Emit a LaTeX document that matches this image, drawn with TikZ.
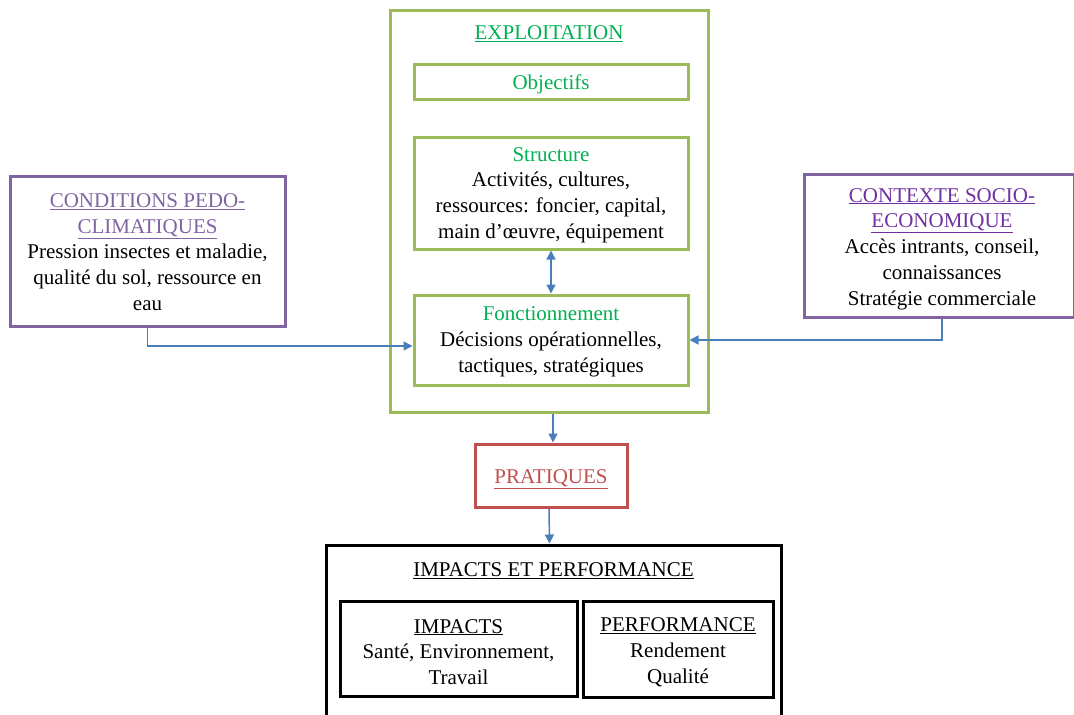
\documentclass[tikz,border=0pt]{standalone}
\usepackage{fontspec}
\setmainfont{Liberation Serif}
\usetikzlibrary{arrows.meta}
\definecolor{exgreen}{HTML}{9BBB59}
\definecolor{extext}{HTML}{00B050}
\definecolor{pedo}{HTML}{8064A2}
\definecolor{socio}{HTML}{7030A0}
\definecolor{pratred}{HTML}{C0504D}
\definecolor{flow}{HTML}{4A7EBB}

\begin{document}
\begin{tikzpicture}[x=1pt,y=-1pt,
  box/.style={draw, line width=3pt, minimum width=#1, align=center, inner sep=0pt},
  txt/.style={align=center, font=\fontsize{21}{25.8}\selectfont},
  flowarrow/.style={draw=flow, line width=1.5pt, -{Triangle[length=9pt,width=9pt]}}]

\useasboundingbox (0,0) rectangle (1074,715);

\node[box=318pt, draw=exgreen, minimum height=402pt] (expl) at (549,211) {};
\node[txt, text=extext] (expltitle) at (549,34) {\underline{EXPLOITATION}};
\node[box=274pt, draw=exgreen, minimum height=35pt] (obj) at (551,81.5) {};
\node[txt, text=extext] at (551,84) {Objectifs};
\node[box=274pt, draw=exgreen, minimum height=112pt] (struct) at (551,193) {};
\node[txt] at (551,195) {\textcolor{extext}{Structure}\\ Activités, cultures,\\ ressources: foncier, capital,\\ main d’œuvre, équipement};
\node[box=274pt, draw=exgreen, minimum height=90pt] (fonct) at (551,340) {};
\node[txt] at (551,342) {\textcolor{extext}{Fonctionnement}\\ Décisions opérationnelles,\\ tactiques, stratégiques};

\node[box=275pt, draw=pedo, minimum height=150pt] (cond) at (147.5,251) {};
\node[txt] at (147.5,252) {\textcolor{pedo}{\underline{CONDITIONS PEDO-}}\\ \textcolor{pedo}{\underline{CLIMATIQUES}}\\ Pression insectes et maladie,\\ qualité du sol, ressource en\\ eau};

\node[box=270pt, draw=pedo, minimum height=143pt] (ctx) at (939,245.5) {};
\node[txt] at (942,249) {\textcolor{socio}{\underline{CONTEXTE SOCIO-}}\\ \textcolor{socio}{\underline{ECONOMIQUE}}\\ Accès intrants, conseil,\\ connaissances\\ Stratégie commerciale};

\node[box=152pt, draw=pratred, minimum height=63pt] (prat) at (551,475.5) {};
\node[txt, text=pratred] at (551,479) {\underline{PRATIQUES}};

\node[box=455pt, draw=black, minimum height=185pt] (ip) at (553.5,637.5) {};
\node[txt] at (553.5,571) {\underline{IMPACTS ET PERFORMANCE}};
\node[box=237pt, draw=black, minimum height=95pt] (imp) at (458.5,648.5) {};
\node[txt] at (458.5,652) {\underline{IMPACTS}\\ Santé, Environnement,\\ Travail};
\node[box=190pt, draw=black, minimum height=96pt] (perf) at (678,649) {};
\node[txt] at (678,652) {\underline{PERFORMANCE}\\ Rendement\\ Qualité};

% fleches
\draw[flowarrow, {Triangle[length=9pt,width=9pt]}-{Triangle[length=9pt,width=9pt]}] (struct.south) -- (fonct.north);
\draw[flowarrow] (cond.south) |- ([yshift=-6pt]fonct.west);
\draw[flowarrow] ([xshift=3pt]ctx.south) |- (fonct.east);
\draw[flowarrow] ([xshift=4pt]expl.south) -- ([xshift=2pt]prat.north);
\draw[flowarrow] ([xshift=-2pt]prat.south) -- ([xshift=-4pt]ip.north);

\end{tikzpicture}
\end{document}
